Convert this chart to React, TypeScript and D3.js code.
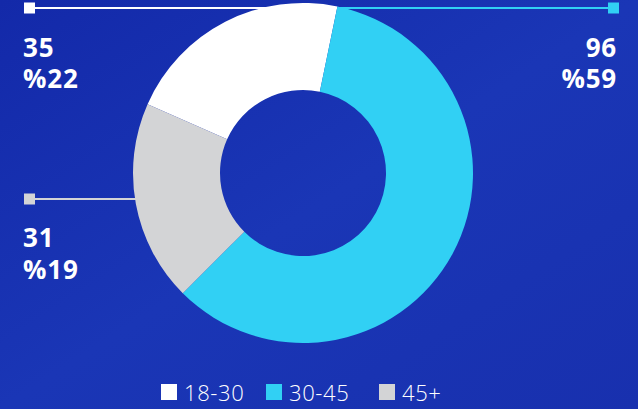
import React from "react";
import * as d3 from "d3";

const categories = ["18-30", "30-45", "45+"];
const values = [35, 96, 31];
const percentLabels = ["%22", "%59", "%19"];
const colors = ["#ffffff", "#31d0f4", "#d3d4d6"];

const width = 638;
const height = 409;
const cx = 303;
const cy = 173;
const outerR = 170;
const innerR = 83;

const App = () => {
  const pie = d3
    .pie<number>()
    .sort(null)
    .value((d) => d)
    .startAngle((-66.1 * Math.PI) / 180)
    .endAngle(((360 - 66.1) * Math.PI) / 180);
  const arcs = pie(values);
  const arc = d3.arc<d3.PieArcDatum<number>>().innerRadius(innerR).outerRadius(outerR);

  // label rows: left top, right top, left middle
  const labelPos = [
    { y: 8, side: "left", lineEnd: 320, textX: 23, valY: 57, pctY: 88 },
    { y: 8, side: "right", lineEnd: 338, textX: 617, valY: 57, pctY: 88 },
    { y: 199, side: "left", lineEnd: 140, textX: 23, valY: 247, pctY: 279 },
  ];

  const legendX = [161, 266, 379];

  return (
    <div style={{ position: "absolute", left: 0, top: 0 }}>
      <svg width={width} height={height} style={{ display: "block" }}>
        <defs>
          <linearGradient id="bg" x1="0" y1="0" x2="1" y2="1">
            <stop offset="0" stopColor="#1329a9" />
            <stop offset="0.5" stopColor="#1a36b6" />
            <stop offset="1" stopColor="#1830ae" />
          </linearGradient>
        </defs>
        <rect width={width} height={height} fill="url(#bg)" />

        {labelPos.map((p, i) => {
          const sq = p.side === "left" ? 24 : 608;
          const x1 = p.side === "left" ? 35 : p.lineEnd;
          const x2 = p.side === "left" ? p.lineEnd : 608;
          return (
            <g key={"l" + i}>
              <line x1={x1} x2={x2} y1={p.y} y2={p.y} stroke={colors[i]} strokeWidth={2} />
              <rect x={sq} y={p.y - 5.5} width={11} height={11} fill={colors[i]} />
            </g>
          );
        })}

        <g transform={`translate(${cx},${cy})`}>
          {arcs.map((a, i) => (
            <path key={i} d={arc(a) || ""} fill={colors[i]} />
          ))}
        </g>

        {labelPos.map((p, i) => (
          <g
            key={"t" + i}
            fill="#ffffff"
            fontFamily="'Open Sans', sans-serif"
            fontWeight={700}
            fontSize={26}
            letterSpacing={0.8}
            textAnchor={p.side === "left" ? "start" : "end"}
          >
            <text x={p.textX} y={p.valY}>{values[i]}</text>
            <text x={p.textX} y={p.pctY}>{percentLabels[i]}</text>
          </g>
        ))}

        {categories.map((c, i) => (
          <g key={c}>
            <rect x={legendX[i]} y={384} width={16} height={16} fill={colors[i]} />
            <text
              x={legendX[i] + 23}
              y={401}
              fill="#ffffff"
              fontFamily="'Open Sans', sans-serif"
              fontWeight={300}
              fontSize={22}
              letterSpacing={0.6}
            >
              {c}
            </text>
          </g>
        ))}
      </svg>
    </div>
  );
};

export default App;
